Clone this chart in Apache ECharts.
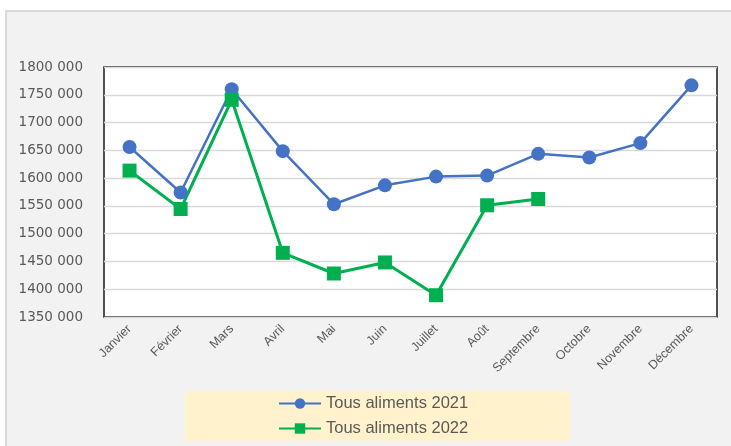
<!DOCTYPE html>
<html>
<head>
<meta charset="utf-8">
<script src="https://cdn.jsdelivr.net/npm/echarts@6/dist/echarts.min.js"></script>
<style>
html,body{margin:0;padding:0;background:#f2f2f2;overflow:hidden;}
#c{width:731px;height:446px;}
</style>
</head>
<body>
<div id="c"></div>
<script>
const categories = ['Janvier','Février','Mars','Avril','Mai','Juin','Juillet','Août','Septembre','Octobre','Novembre','Décembre'];
const series2021 = [1656000,1574000,1760000,1648500,1553000,1587000,1602700,1604500,1643700,1637000,1663000,1767000];
const series2022 = [1613500,1544400,1741000,1465500,1428300,1448200,1389200,1551100,1562400,null,null,null];
const seriesNames = ['Tous aliments 2021','Tous aliments 2022'];
const yMin = 1350000, yMax = 1800000, yStep = 50000;

const chart = echarts.init(document.getElementById('c'));
chart.setOption({
  backgroundColor: '#f2f2f2',
  animation: false,
  graphic: [
    {type:'rect', shape:{x:0,y:0,width:731,height:10}, style:{fill:'#ffffff'}, z:-10},
    {type:'rect', shape:{x:0,y:0,width:5,height:446}, style:{fill:'#ffffff'}, z:-10},
    {type:'line', shape:{x1:5,y1:11,x2:731,y2:11}, style:{stroke:'#d9d9d9',lineWidth:2}, z:-9},
    {type:'line', shape:{x1:6,y1:10,x2:6,y2:446}, style:{stroke:'#d9d9d9',lineWidth:2}, z:-9},
    {type:'rect', shape:{x:185,y:391,width:385,height:50}, style:{fill:'#fff2cc'}, z:-8}
  ],
  grid: {left:104, right:14, top:67, bottom:129, show:true, backgroundColor:'#ffffff', borderColor:'#1a1a1a', borderWidth:1.5, containLabel:false},
  legend: {
    orient:'vertical', left:273, top:390, itemWidth:42, itemHeight:13, itemGap:8,
    textStyle:{fontFamily:'Liberation Sans, Arial, sans-serif', fontSize:16.5, color:'#595959'},
    data: seriesNames
  },
  xAxis: {
    type:'category', data:categories, boundaryGap:true,
    axisLine:{show:false}, axisTick:{show:false},
    axisLabel:{rotate:45, fontSize:12.5, color:'#595959', margin:10, interval:0, fontFamily:'Liberation Sans, Arial, sans-serif'}
  },
  yAxis: {
    type:'value', min:yMin, max:yMax, interval:yStep,
    axisLine:{show:false}, axisTick:{show:false},
    splitLine:{lineStyle:{color:'#d9d9d9', width:1.3}},
    axisLabel:{fontSize:13.5, color:'#595959', margin:21, fontFamily:'DejaVu Sans, sans-serif',
      formatter: v => Math.floor(v/1000) + ' 000'}
  },
  series: [
    {name:seriesNames[0], type:'line', data:series2021, symbol:'circle', symbolSize:14,
     lineStyle:{color:'#4472c4', width:2.5}, itemStyle:{color:'#4472c4'}},
    {name:seriesNames[1], type:'line', data:series2022, symbol:'rect', symbolSize:14,
     lineStyle:{color:'#00b050', width:3}, itemStyle:{color:'#00b050'}}
  ]
});
</script>
</body>
</html>
